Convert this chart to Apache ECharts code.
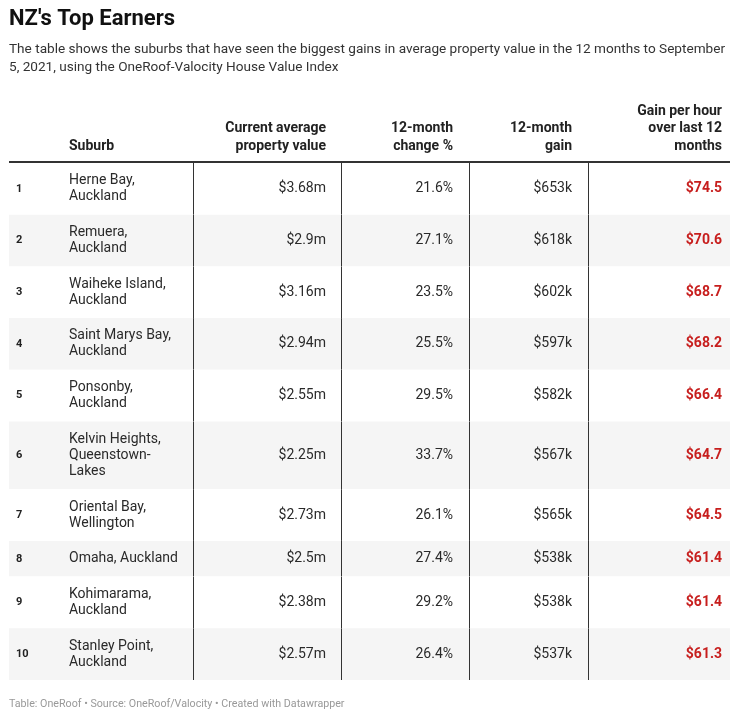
<!DOCTYPE html>
<html><head><meta charset="utf-8">
<script src="https://cdn.jsdelivr.net/npm/echarts@6/dist/echarts.min.js"></script>
<style>html,body{margin:0;padding:0;background:#fff}#c{width:740px;height:722px}</style>
</head><body><div id="c"></div>
<script>
// ---- data ----
var ranks = [1,2,3,4,5,6,7,8,9,10];
var suburbs = ["Herne Bay,\nAuckland","Remuera,\nAuckland","Waiheke Island,\nAuckland","Saint Marys Bay,\nAuckland","Ponsonby,\nAuckland","Kelvin Heights,\nQueenstown-\nLakes","Oriental Bay,\nWellington","Omaha, Auckland","Kohimarama,\nAuckland","Stanley Point,\nAuckland"];
var currentValue = ["$3.68m","$2.9m","$3.16m","$2.94m","$2.55m","$2.25m","$2.73m","$2.5m","$2.38m","$2.57m"];
var change12 = ["21.6%","27.1%","23.5%","25.5%","29.5%","33.7%","26.1%","27.4%","29.2%","26.4%"];
var gain12 = ["$653k","$618k","$602k","$597k","$582k","$567k","$565k","$538k","$538k","$537k"];
var gainPerHour = ["$74.5","$70.6","$68.7","$68.2","$66.4","$64.7","$64.5","$61.4","$61.4","$61.3"];
var headers = ["Suburb","Current average\nproperty value","12-month\nchange %","12-month\ngain","Gain per hour\nover last 12\nmonths"];
var titleText = "NZ's Top Earners";
var subtitleLines = ["The table shows the suburbs that have seen the biggest gains in average property value in the 12 months to September", "5, 2021, using the OneRoof-Valocity House Value Index"];
var footerText = "Table: OneRoof \u2022 Source: OneRoof/Valocity \u2022 Created with Datawrapper";

// ---- layout ----
var FONT = "Roboto, 'Noto Sans', sans-serif";
var LINE_H = 16, ROW_PAD = 19.7;
var GRID_L = 9, GRID_T = 163, GRID_W = 721;
var COL_RANK = 7, COL_SUB = 60;
var COL_RIGHT = [317, 444, 563, 713];
var SEPS = [184, 332, 460, 579];

var rows = [];
var y = 0;
for (var i = 0; i < ranks.length; i++) {
  var n = suburbs[i].split("\n").length;
  var h = n * LINE_H + ROW_PAD;
  rows.push([y, y + h, i]);
  y += h;
}
var TOTAL_H = y;

function renderRow(params, api) {
  var i = api.value(2);
  var p0 = api.coord([0, api.value(0)]);
  var p1 = api.coord([GRID_W, api.value(1)]);
  var cy = (p0[1] + p1[1]) / 2;
  var ch = [];
  ch.push({type:'rect', shape:{x:p0[0], y:p0[1], width:p1[0]-p0[0], height:p1[1]-p0[1]},
    style:{fill: i % 2 === 1 ? '#f5f5f5' : '#ffffff'}});
  SEPS.forEach(function (sx) {
    var a = api.coord([sx, api.value(0)]), b = api.coord([sx, api.value(1)]);
    ch.push({type:'line', shape:{x1:Math.round(a[0])+0.5, y1:a[1], x2:Math.round(a[0])+0.5, y2:b[1]},
      style:{stroke:'#333', lineWidth:1}});
  });
  var xr = api.coord([COL_RANK, 0])[0];
  ch.push({type:'text', x:xr, y:cy, style:{text:String(ranks[i]), font:'bold 11px ' + FONT, fill:'#222', verticalAlign:'middle', align:'left'}});
  var xs = api.coord([COL_SUB, 0])[0];
  ch.push({type:'text', x:xs, y:cy, style:{text:suburbs[i], font:'14px ' + FONT, lineHeight:LINE_H, fill:'#2a2a2a', verticalAlign:'middle', align:'left'}});
  var vals = [currentValue[i], change12[i], gain12[i], gainPerHour[i]];
  vals.forEach(function (v, k) {
    var xx = api.coord([COL_RIGHT[k], 0])[0];
    ch.push({type:'text', x:xx, y:cy, style:{text:v, font:(k === 3 ? 'bold ' : '') + '14px ' + FONT,
      fill: k === 3 ? '#c71e1d' : '#2a2a2a', verticalAlign:'middle', align:'right'}});
  });
  return {type:'group', children:ch};
}

var headerGraphics = [];
var hx = [GRID_L + COL_SUB].concat(COL_RIGHT.map(function (c) { return GRID_L + c; }));
headers.forEach(function (t, k) {
  headerGraphics.push({type:'text', x: hx[k], y: 155,
    style:{text:t, font:'bold 14px ' + FONT, lineHeight:17.5, fill:'#222', align: k === 0 ? 'left' : 'right', verticalAlign:'bottom'}});
});

var chart = echarts.init(document.getElementById('c'), null, {renderer:'canvas'});
chart.setOption({
  backgroundColor:'#fff',
  animation:false,
  grid:{left:GRID_L, top:GRID_T, width:GRID_W, height:TOTAL_H},
  xAxis:{type:'value', min:0, max:GRID_W, show:false},
  yAxis:{type:'value', min:0, max:TOTAL_H, inverse:true, show:false},
  graphic:[
    {type:'text', left:9, top:8, style:{text:titleText, font:'bold 22px ' + FONT, fill:'#111'}},
    {type:'text', left:9, top:41, style:{text:subtitleLines.join("\n"), font:'13.6px ' + FONT, fill:'#333', lineHeight:17.5}},
    {type:'rect', shape:{x:9, y:161, width:721, height:2}, style:{fill:'#333'}},
    {type:'text', left:9, top:699, style:{text:footerText, font:'10.7px ' + FONT, fill:'#999'}}
  ].concat(headerGraphics),
  series:[{type:'custom', coordinateSystem:'cartesian2d', renderItem:renderRow, data:rows, encode:{x:[], y:[0,1]}, silent:true}]
});
</script></body></html>
